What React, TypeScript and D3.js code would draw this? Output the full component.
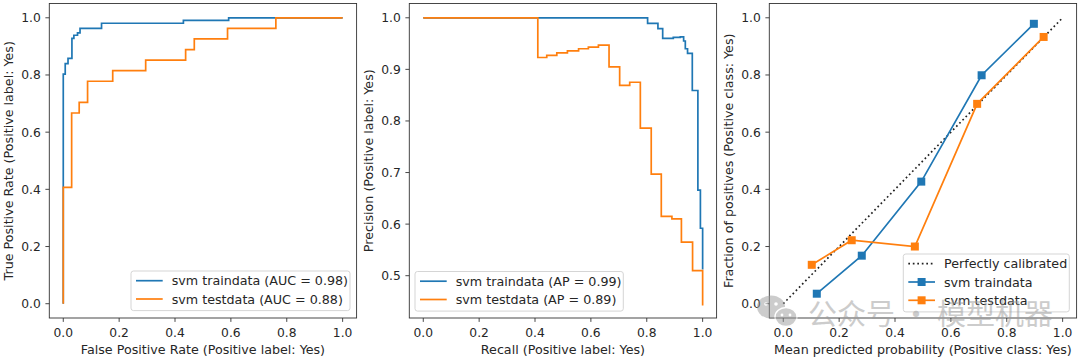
import React from 'react';
import * as d3 from 'd3';

const BLUE = '#1f77b4';
const ORANGE = '#ff7f0e';
const INK = '#262626';
const FONT = 'DejaVu Sans, sans-serif';
const FS = 12.7;
const TICK_FS = 12.3;

// ROC curve corners (fpr, tpr), drawn step-after
const rocTrainFpr = [0, 0, 0.007, 0.017, 0.031, 0.038, 0.051, 0.06, 0.137, 0.43, 0.592, 1.0];
const rocTrainTpr = [0, 0.803, 0.84, 0.858, 0.928, 0.939, 0.947, 0.963, 0.981, 0.991, 1.0, 1.0];
const rocTestFpr = [0, 0, 0.03, 0.057, 0.087, 0.177, 0.295, 0.438, 0.469, 0.588, 0.761, 1.0];
const rocTestTpr = [0, 0.407, 0.667, 0.704, 0.778, 0.815, 0.852, 0.889, 0.926, 0.963, 1.0, 1.0];

// precision-recall corners (recall, precision), drawn step-after
const prTrainRecall = [0, 0.803, 0.84, 0.857, 0.895, 0.92, 0.932, 0.938, 0.946, 0.963, 0.983, 0.992, 1.0];
const prTrainPrecision = [1, 0.989, 0.979, 0.96, 0.962, 0.963, 0.955, 0.94, 0.931, 0.859, 0.666, 0.592, 0.512];
const prTestRecall = [0, 0.41, 0.442, 0.478, 0.516, 0.556, 0.591, 0.627, 0.665, 0.703, 0.739, 0.777, 0.816, 0.852, 0.89, 0.924, 0.964, 1.0];
const prTestPrecision = [1, 0.923, 0.927, 0.932, 0.936, 0.94, 0.943, 0.947, 0.905, 0.869, 0.875, 0.786, 0.697, 0.615, 0.61, 0.565, 0.51, 0.442];

// calibration curve
const calTrainX = [0.12, 0.281, 0.494, 0.71, 0.897];
const calTrainY = [0.035, 0.168, 0.427, 0.799, 0.979];
const calTestX = [0.102, 0.245, 0.471, 0.694, 0.932];
const calTestY = [0.136, 0.222, 0.2, 0.699, 0.933];

const unitTicks = [0, 0.2, 0.4, 0.6, 0.8, 1.0];
const precisionTicks = [0.5, 0.6, 0.7, 0.8, 0.9, 1.0];

const rocLabels = ['svm traindata (AUC = 0.98)', 'svm testdata (AUC = 0.88)'];
const prLabels = ['svm traindata (AP = 0.99)', 'svm testdata (AP = 0.89)'];
const calLabels = ['Perfectly calibrated', 'svm traindata', 'svm testdata'];

const TOP = 3.5;
const BOTTOM = 318;

type Scale = d3.ScaleLinear<number, number>;

function Frame({ left, width, yDomain, yTicks, xLabel, yLabel, children }: {
  left: number; width: number; yDomain: [number, number]; yTicks: number[];
  xLabel: string; yLabel: string; children: (x: Scale, y: Scale) => React.ReactNode;
}) {
  const x = d3.scaleLinear().domain([-0.05, 1.05]).range([left, left + width]);
  const y = d3.scaleLinear().domain(yDomain).range([BOTTOM, TOP]);
  const fmt = d3.format('.1f');
  return (
    <g>
      <g>{children(x, y)}</g>
      <rect x={left} y={TOP} width={width} height={BOTTOM - TOP} fill="none" stroke="#333" strokeWidth={0.9} />
      {unitTicks.map((t) => (
        <g key={'x' + t}>
          <line x1={x(t)} x2={x(t)} y1={BOTTOM} y2={BOTTOM + 3.9} stroke="#333" strokeWidth={0.9} />
          <text x={x(t)} y={BOTTOM + 18.5} textAnchor="middle" fontSize={TICK_FS} fill={INK}>{fmt(t)}</text>
        </g>
      ))}
      {yTicks.map((t) => (
        <g key={'y' + t}>
          <line x1={left - 3.9} x2={left} y1={y(t)} y2={y(t)} stroke="#333" strokeWidth={0.9} />
          <text x={left - 8.5} y={y(t) + 4.4} textAnchor="end" fontSize={TICK_FS} fill={INK}>{fmt(t)}</text>
        </g>
      ))}
      <text x={x(0.5)} y={354} textAnchor="middle" fontSize={FS} fill={INK}>{xLabel}</text>
      <text transform={`translate(${left - 36},${(TOP + BOTTOM) / 2}) rotate(-90)`} textAnchor="middle" fontSize={FS} fill={INK}>{yLabel}</text>
    </g>
  );
}

function Legend({ x, y, w, rows }: {
  x: number; y: number; w: number;
  rows: { label: string; color: string; dotted?: boolean; marker?: boolean }[];
}) {
  const rowH = 18.3;
  const h = rows.length * rowH + 3;
  return (
    <g>
      <rect x={x} y={y} width={w} height={h} rx={2.5} fill="#fff" fillOpacity={0.8} stroke="#d0d0d0" strokeWidth={0.9} />
      {rows.map((r, i) => {
        const cy = y + 9.7 + i * rowH;
        return (
          <g key={r.label}>
            <line x1={x + 5} x2={x + 31.7} y1={cy} y2={cy} stroke={r.color} strokeWidth={1.7}
              strokeDasharray={r.dotted ? '1.7,2.8' : undefined} />
            {r.marker && <rect x={x + 18.3 - 4} y={cy - 4} width={8} height={8} fill={r.color} />}
            <text x={x + 40.7} y={cy + 4.5} fontSize={FS} fill={INK}>{r.label}</text>
          </g>
        );
      })}
    </g>
  );
}

function stepPath(xs: number[], ys: number[], x: Scale, y: Scale) {
  const pts = xs.map((v, i) => [v, ys[i]] as [number, number]);
  return d3.line<[number, number]>().x((d) => x(d[0])).y((d) => y(d[1])).curve(d3.curveStepAfter)(pts) || '';
}

function plainPath(xs: number[], ys: number[], x: Scale, y: Scale) {
  const pts = xs.map((v, i) => [v, ys[i]] as [number, number]);
  return d3.line<[number, number]>().x((d) => x(d[0])).y((d) => y(d[1]))(pts) || '';
}

export default function App() {
  const panelW = 307.3;
  return (
    <svg width={1080} height={359} style={{ position: 'absolute', left: 0, top: 0, background: '#fff' }} fontFamily={FONT}>
      <rect width={1080} height={359} fill="#fff" />

      <Frame left={49.3} width={panelW} yDomain={[-0.05, 1.05]} yTicks={unitTicks}
        xLabel="False Positive Rate (Positive label: Yes)" yLabel="True Positive Rate (Positive label: Yes)">
        {(x, y) => (
          <>
            <path d={stepPath(rocTrainFpr, rocTrainTpr, x, y)} fill="none" stroke={BLUE} strokeWidth={1.7} />
            <path d={stepPath(rocTestFpr, rocTestTpr, x, y)} fill="none" stroke={ORANGE} strokeWidth={1.7} />
          </>
        )}
      </Frame>
      <Legend x={131} y={271} w={219} rows={[
        { label: rocLabels[0], color: BLUE },
        { label: rocLabels[1], color: ORANGE },
      ]} />

      <Frame left={409.3} width={panelW} yDomain={[0.418, 1.0277]} yTicks={precisionTicks}
        xLabel="Recall (Positive label: Yes)" yLabel="Precision (Positive label: Yes)">
        {(x, y) => (
          <>
            <path d={stepPath(prTrainRecall, prTrainPrecision, x, y)} fill="none" stroke={BLUE} strokeWidth={1.7} />
            <path d={stepPath(prTestRecall, prTestPrecision, x, y)} fill="none" stroke={ORANGE} strokeWidth={1.7} />
          </>
        )}
      </Frame>
      <Legend x={415} y={271.5} w={208.3} rows={[
        { label: prLabels[0], color: BLUE },
        { label: prLabels[1], color: ORANGE },
      ]} />

      <Frame left={769.3} width={panelW} yDomain={[-0.05, 1.05]} yTicks={unitTicks}
        xLabel="Mean predicted probability (Positive class: Yes)" yLabel="Fraction of positives (Positive class: Yes)">
        {(x, y) => (
          <>
            <path d={plainPath([0, 1], [0, 1], x, y)} fill="none" stroke="#222" strokeWidth={1.7} strokeDasharray="1.7,2.8" />
            <path d={plainPath(calTrainX, calTrainY, x, y)} fill="none" stroke={BLUE} strokeWidth={1.7} />
            {calTrainX.map((v, i) => (
              <rect key={'b' + i} x={x(v) - 4} y={y(calTrainY[i]) - 4} width={8} height={8} fill={BLUE} />
            ))}
            <path d={plainPath(calTestX, calTestY, x, y)} fill="none" stroke={ORANGE} strokeWidth={1.7} />
            {calTestX.map((v, i) => (
              <rect key={'o' + i} x={x(v) - 4} y={y(calTestY[i]) - 4} width={8} height={8} fill={ORANGE} />
            ))}
          </>
        )}
      </Frame>
      <Legend x={903.3} y={254} w={166} rows={[
        { label: calLabels[0], color: '#222', dotted: true },
        { label: calLabels[1], color: BLUE, marker: true },
        { label: calLabels[2], color: ORANGE, marker: true },
      ]} />

      {/* watermark */}
      <g opacity={0.5}>
        <ellipse cx={771} cy={307} rx={14} ry={11.5} fill="#9a9a9a" />
        <ellipse cx={786} cy={317} rx={11} ry={9.5} fill="#9a9a9a" stroke="#fff" strokeWidth={1.5} />
        <circle cx={766} cy={304} r={1.8} fill="#fff" />
        <circle cx={776} cy={304} r={1.8} fill="#fff" />
        <circle cx={782} cy={315} r={1.4} fill="#fff" />
        <circle cx={790} cy={315} r={1.4} fill="#fff" />
        <text x={808} y={325} fontSize={29} fontFamily="Noto Sans CJK SC" fill="#9a9a9a">公众号 · 模型机器</text>
      </g>
    </svg>
  );
}
